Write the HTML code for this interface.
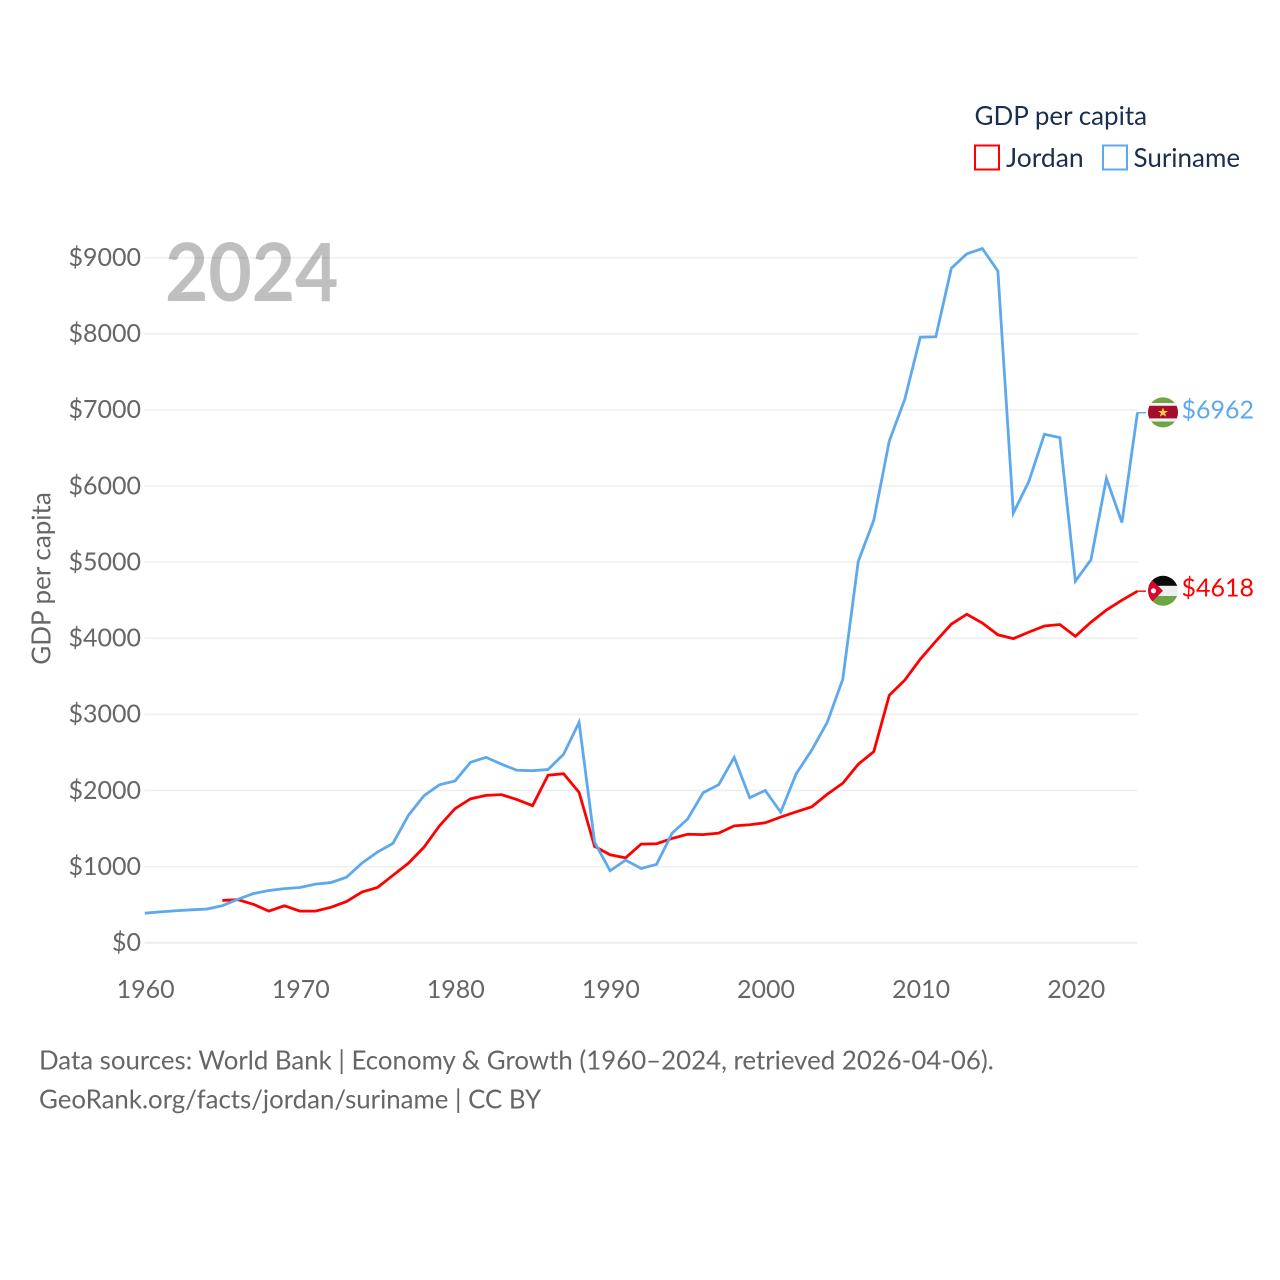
<!DOCTYPE html>
<html lang="en">
<head>
<meta charset="utf-8">
<title>GDP per capita: Jordan and Suriname</title>
<style>
html,body{margin:0;padding:0;background:#fff;width:1280px;height:1280px;overflow:hidden}
svg{display:block;font-family:"Lato","Carlito","Liberation Sans",sans-serif}
</style>
</head>
<body>
<svg id="chart" xmlns="http://www.w3.org/2000/svg" width="1280" height="1280" viewBox="0 0 1280 1280">
  <defs>
    <clipPath id="flag-clip-s"><circle cx="1163" cy="412.4" r="15"/></clipPath>
    <clipPath id="flag-clip-j"><circle cx="1163" cy="590.8" r="15"/></clipPath>
  </defs>
  <g id="grid"></g>
  <g id="yticks"></g>
  <g id="xticks"></g>
  <text transform="translate(165,301) scale(0.935,1)" x="0" y="0" font-size="80" font-weight="700" fill="#000" fill-opacity="0.25">2024</text>
  <text transform="translate(50.5,578.5) rotate(-90)" text-anchor="middle" font-size="26" fill="#666">GDP per capita</text>
  <g id="series"></g>
  <g>
    <text x="974.5" y="125" font-size="26" fill="#1a2f4f">GDP per capita</text>
    <rect x="975" y="145.5" width="24" height="24" fill="none" stroke="#ff0000" stroke-width="2"/>
    <text x="1006" y="167" font-size="26.5" fill="#1a2f4f">Jordan</text>
    <rect x="1103" y="145.5" width="24" height="24" fill="none" stroke="#5ea8ee" stroke-width="2"/>
    <text x="1133.5" y="167" font-size="26" fill="#1a2f4f">Suriname</text>
  </g>
  <g clip-path="url(#flag-clip-s)">
    <rect x="1148" y="397" width="30" height="31" fill="#6ea544"/>
    <rect x="1148" y="403" width="30" height="18.5" fill="#f2f2f2"/>
    <rect x="1148" y="405.8" width="30" height="12.6" fill="#a50d2c"/>
    <polygon points="1163,407.5 1164.3,411 1168,411 1165,413.2 1166.2,416.8 1163,414.6 1159.8,416.8 1161,413.2 1158,411 1161.7,411" fill="#fbcf47"/>
  </g>
  <g clip-path="url(#flag-clip-j)">
    <rect x="1148" y="575" width="30" height="11" fill="#0a0a0a"/>
    <rect x="1148" y="585.8" width="30" height="10.2" fill="#eeeeee"/>
    <rect x="1148" y="596" width="30" height="11" fill="#6ea544"/>
    <polygon points="1147,575 1163,590.8 1147,607" fill="#d2082f"/>
    <circle cx="1153.5" cy="590.8" r="2.6" fill="#f5f5f5"/>
  </g>
  <g id="end-labels"></g>
  <text x="39" y="1069.5" font-size="25.83" fill="#666">Data sources: World Bank | Economy &amp; Growth (1960–2024, retrieved 2026-04-06).</text>
  <text x="39" y="1108.5" font-size="25.83" fill="#666">GeoRank.org/facts/jordan/suriname | CC BY</text>
</svg>
<script>
const yTickValues = [0, 1000, 2000, 3000, 4000, 5000, 6000, 7000, 8000, 9000];
const xTickYears = [1960, 1970, 1980, 1990, 2000, 2010, 2020];
const surinameYears = [1960,1961,1962,1963,1964,1965,1966,1967,1968,1969,1970,1971,1972,1973,1974,1975,1976,1977,1978,1979,1980,1981,1982,1983,1984,1985,1986,1987,1988,1989,1990,1991,1992,1993,1994,1995,1996,1997,1998,1999,2000,2001,2002,2003,2004,2005,2006,2007,2008,2009,2010,2011,2012,2013,2014,2015,2016,2017,2018,2019,2020,2021,2022,2023,2024];
const surinameValues = [388,405,420,432,442,486,570,645,685,710,725,770,790,860,1045,1190,1305,1675,1930,2075,2125,2370,2435,2345,2265,2260,2275,2475,2895,1320,945,1085,975,1030,1440,1625,1970,2075,2435,1905,2000,1715,2220,2530,2895,3460,5010,5550,6590,7140,7955,7960,8860,9050,9120,8825,5645,6060,6680,6635,4750,5030,6100,5520,6962];
const jordanYears = [1965,1966,1967,1968,1969,1970,1971,1972,1973,1974,1975,1976,1977,1978,1979,1980,1981,1982,1983,1984,1985,1986,1987,1988,1989,1990,1991,1992,1993,1994,1995,1996,1997,1998,1999,2000,2001,2002,2003,2004,2005,2006,2007,2008,2009,2010,2011,2012,2013,2014,2015,2016,2017,2018,2019,2020,2021,2022,2023,2024];
const jordanValues = [555,565,505,415,485,415,415,465,540,665,725,885,1045,1255,1535,1760,1890,1935,1945,1880,1800,2200,2220,1975,1265,1155,1115,1295,1300,1370,1425,1420,1440,1535,1550,1575,1650,1720,1785,1950,2095,2345,2510,3250,3450,3725,3960,4185,4315,4200,4045,3995,4080,4160,4180,4025,4210,4370,4500,4618];

const NS = 'http://www.w3.org/2000/svg';
const xScale = function (year) { return 144.8 + (year - 1960) * 15.51; };
const yScale = function (value) { return 942.7 - value * 0.07612; };

function make(tag, parent, attrs) {
  const el = document.createElementNS(NS, tag);
  Object.keys(attrs).forEach(function (k) { el.setAttribute(k, attrs[k]); });
  parent.appendChild(el);
  return el;
}

const gridGroup = document.getElementById('grid');
const yGroup = document.getElementById('yticks');
yTickValues.forEach(function (v) {
  const line = make('line', gridGroup, { x1: 144.5, x2: 1137.5, y1: yScale(v), y2: yScale(v), stroke: '#eeeeee', 'stroke-width': v === 0 ? 2 : 1.5 });
  
  
  const label = make('text', yGroup, { x: 141, y: yScale(v) + 8.3, 'text-anchor': 'end', 'font-size': 25, fill: '#666' });
  
  
  label.textContent = '$' + v;
});

const xGroup = document.getElementById('xticks');
xTickYears.forEach(function (y) {
  const label = make('text', xGroup, { x: xScale(y) + 0.8, y: 997.8, 'text-anchor': 'middle', 'font-size': 25, fill: '#666' });
  
  
  label.textContent = y;
});

function linePoints(years, values) {
  return years.map(function (y, i) { return xScale(y).toFixed(2) + ',' + yScale(values[i]).toFixed(2); }).join(' ');
}

const seriesGroup = document.getElementById('series');
const labelGroup = document.getElementById('end-labels');

const jordanLine = make('polyline', seriesGroup, { points: linePoints(jordanYears, jordanValues), fill: 'none', stroke: '#ff0000', 'stroke-width': 2.8, 'stroke-linejoin': 'miter' });


const surinameLine = make('polyline', seriesGroup, { points: linePoints(surinameYears, surinameValues), fill: 'none', stroke: '#5ea8ee', 'stroke-width': 2.8, 'stroke-linejoin': 'miter' });



const jordanLast = jordanValues[jordanValues.length - 1];
const surinameLast = surinameValues[surinameValues.length - 1];

const jordanLeader = make('line', seriesGroup, { x1: 1137, x2: 1146, y1: yScale(jordanLast), y2: yScale(jordanLast), stroke: '#ff0000', 'stroke-width': 1.4 });


const surinameLeader = make('line', seriesGroup, { x1: 1137, x2: 1146, y1: yScale(surinameLast), y2: yScale(surinameLast), stroke: '#5ea8ee', 'stroke-width': 1.4 });



const jordanLabel = make('text', labelGroup, { x: 1181.5, y: yScale(jordanLast) + 5.5, 'font-size': 25, fill: '#ff0000' });


jordanLabel.textContent = '$' + jordanLast;
const surinameLabel = make('text', labelGroup, { x: 1181.5, y: yScale(surinameLast) + 5.5, 'font-size': 25, fill: '#5ea8ee' });


surinameLabel.textContent = '$' + surinameLast;
</script>
</body>
</html>
